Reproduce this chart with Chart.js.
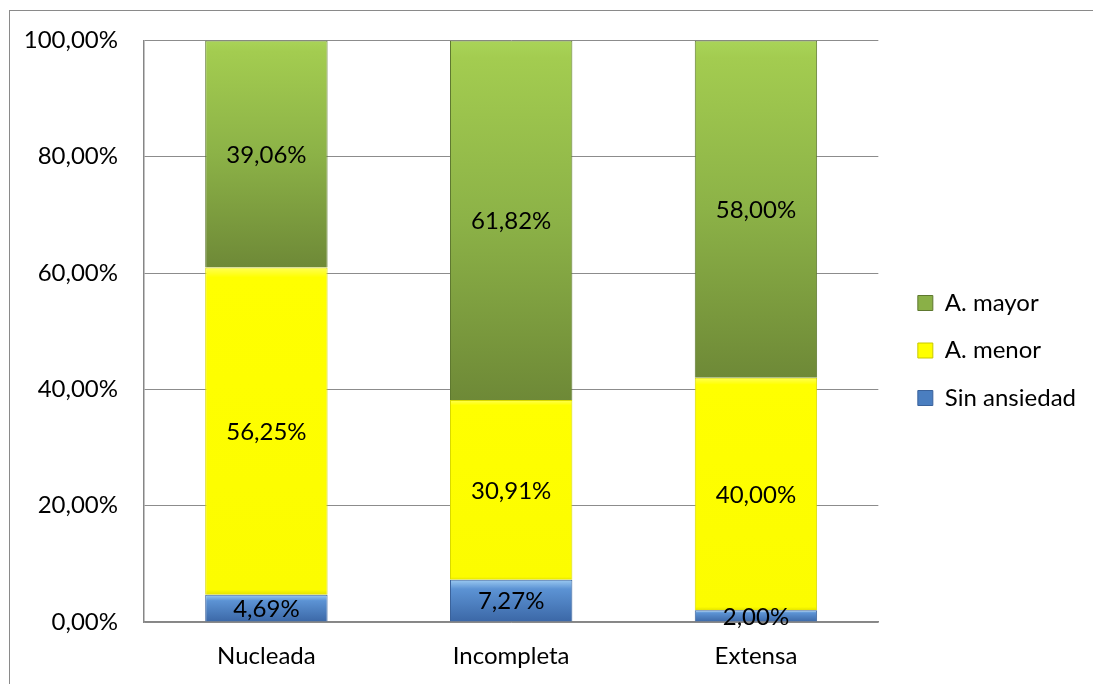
<!DOCTYPE html>
<html>
<head>
<meta charset="utf-8">
<script src="https://cdn.jsdelivr.net/npm/chart.js@4/dist/chart.umd.min.js"></script>
<style>
  html, body { margin: 0; padding: 0; background: #fff; overflow: hidden; }
  #wrap { position: relative; width: 1093px; height: 684px; }
  #frame { position: absolute; left: 9px; top: 10px; width: 1200px; height: 800px; border: 1px solid #8a8a8a; pointer-events: none; }
  canvas { position: absolute; left: 0; top: 0; }
</style>
</head>
<body>
<div id="wrap">
  <canvas id="c" width="1093" height="684"></canvas>
  <div id="frame"></div>
</div>
<script>
const categories = ['Nucleada', 'Incompleta', 'Extensa'];
const sinAnsiedad = [4.69, 7.27, 2.00];
const aMenor = [56.25, 30.91, 40.00];
const aMayor = [39.06, 61.82, 58.00];
const yTicks = [0, 20, 40, 60, 80, 100];

const FONT = 'Lato, "Open Sans", sans-serif';
const FS = 24;
const fmt = v => v.toFixed(2).replace('.', ',') + '%';

function segGradient(stops, solid) {
  return function(ctx) {
    const chart = ctx.chart;
    if (ctx.type !== 'data' || !chart.chartArea) return solid;
    const ys = chart.scales.y;
    let base = 0;
    for (let d = 0; d < ctx.datasetIndex; d++) base += chart.data.datasets[d].data[ctx.dataIndex];
    const top = base + ctx.raw;
    const p0 = ys.getPixelForValue(top), p1 = ys.getPixelForValue(base);
    if (!isFinite(p0) || !isFinite(p1) || p0 === p1) return solid;
    const g = chart.ctx.createLinearGradient(0, p0, 0, p1);
    stops.forEach(s => g.addColorStop(s[0], s[1]));
    return g;
  };
}

const dataLabels = {
  id: 'dataLabels',
  afterDatasetsDraw(chart) {
    const c = chart.ctx;
    c.save();
    c.font = FS + 'px ' + FONT;
    c.fillStyle = '#000';
    c.textAlign = 'center';
    c.textBaseline = 'middle';
    chart.data.datasets.forEach((ds, di) => {
      const meta = chart.getDatasetMeta(di);
      meta.data.forEach((el, i) => {
        const cy = (el.y + el.base) / 2;
        c.fillText(fmt(ds.data[i]), el.x, cy + 1);
      });
    });
    c.restore();
  }
};

const legendShift = {
  id: 'legendShift',
  afterLayout(chart) {
    const lg = chart.legend;
    if (!lg) return;
    lg.left += 16; lg.right += 16;
    lg.top -= 11; lg.bottom -= 11;
  }
};

new Chart(document.getElementById('c'), {
  type: 'bar',
  data: {
    labels: categories,
    datasets: [
      {
        label: 'Sin ansiedad',
        data: sinAnsiedad,
        backgroundColor: segGradient([[0, '#9CCBF2'], [0.22, '#5C93D4'], [1, '#3B67A6']], '#4A7EC0'),
        borderColor: '#3A629B',
        borderWidth: 1
      },
      {
        label: 'A. menor',
        data: aMenor,
        backgroundColor: segGradient([[0, '#FFFF55'], [0.03, '#FFFF00'], [0.985, '#FCFC00'], [1, '#E2E200']], '#FFFF00'),
        borderColor: '#D8D800',
        borderWidth: 1
      },
      {
        label: 'A. mayor',
        data: aMayor,
        backgroundColor: segGradient([[0, '#A9D458'], [0.05, '#A3CC50'], [0.5, '#8CB247'], [1, '#6E8937']], '#86A940'),
        borderColor: '#5E782F',
        borderWidth: 1
      }
    ]
  },
  options: {
    responsive: false,
    animation: false,
    devicePixelRatio: 1,
    layout: { padding: { top: 39, left: 0, right: 23, bottom: 0 } },
    datasets: { bar: { categoryPercentage: 1, barPercentage: 0.5 } },
    scales: {
      x: {
        stacked: true,
        grid: { display: false, drawTicks: false },
        border: { display: true, color: '#868686', width: 1.5 },
        ticks: { color: '#000', font: { family: FONT, size: FS }, padding: 20 },
        afterFit(s) { s.height = 62; }
      },
      y: {
        stacked: true,
        min: 0, max: 100,
        afterBuildTicks(s) { s.ticks = yTicks.map(v => ({ value: v })); },
        grid: { color: '#8c8c8c', lineWidth: 1, drawTicks: false },
        border: { display: true, color: '#868686', width: 1.5 },
        ticks: { color: '#000', font: { family: FONT, size: FS }, padding: 26, callback: v => fmt(v) },
        afterFit(s) { s.width = 144; }
      }
    },
    plugins: {
      tooltip: { enabled: false },
      legend: {
        position: 'right',
        reverse: true,
        labels: {
          boxWidth: 15,
          boxHeight: 15,
          padding: 23.5,
          color: '#000',
          font: { family: FONT, size: FS },
          generateLabels(chart) {
            const solids = ['#4A7EC0', '#FFFF00', '#8AB047'];
            const strokes = ['#3A629B', '#C8C800', '#5E782F'];
            return chart.data.datasets.map((ds, i) => ({
              text: ds.label,
              fillStyle: solids[i],
              strokeStyle: strokes[i],
              lineWidth: 1,
              hidden: false,
              datasetIndex: i
            }));
          }
        }
      }
    }
  },
  plugins: [dataLabels, legendShift]
});
</script>
</body>
</html>
